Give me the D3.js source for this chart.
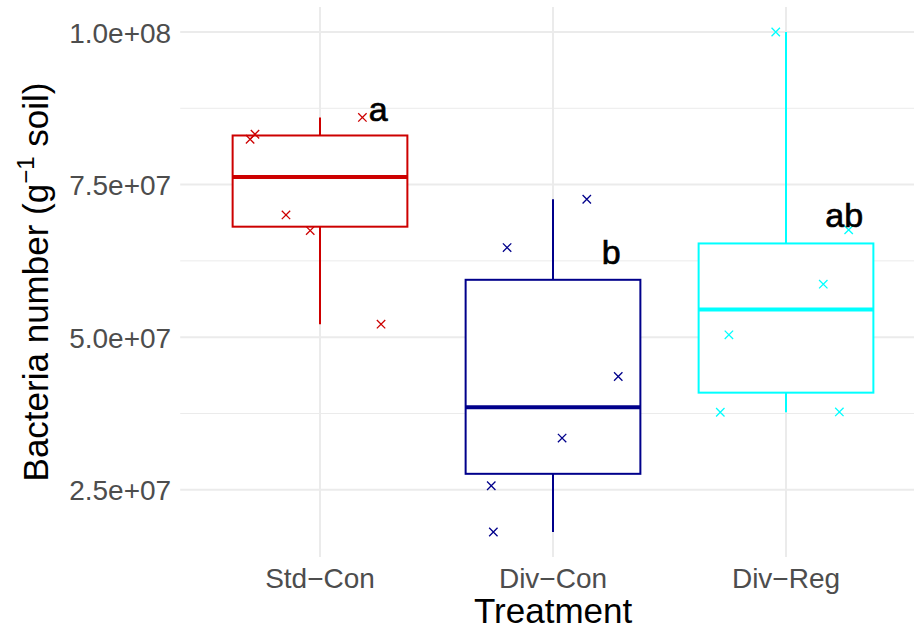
<!DOCTYPE html>
<html><head><meta charset="utf-8">
<script src="https://cdn.jsdelivr.net/npm/d3@7"></script>
<style>
body{margin:0;background:#fff}
svg{display:block}
text{font-family:"Liberation Sans",Arial,Helvetica,sans-serif}
</style>
</head><body>
<svg id="chart" width="914" height="630"></svg>
<script>
// Treatment groups and their colours
const treatments = ["Std\u2212Con", "Div\u2212Con", "Div\u2212Reg"];
const colours = ["#CD0000", "#00008B", "#00FFFF"];

// Bacteria counts per gram of soil, one array per treatment
const stdCon = [8.60e7, 8.325e7, 8.243e7, 7.003e7, 6.746e7, 5.213e7];
const divCon = [7.26e7, 6.468e7, 4.356e7, 3.347e7, 2.566e7, 1.808e7];
const divReg = [1.0e8, 6.758e7, 5.868e7, 5.039e7, 3.770e7, 3.775e7];

// Horizontal jitter of each observation (fraction of a category step)
const stdConJitter = [0.182, -0.279, -0.300, -0.146, -0.042, 0.262];
const divConJitter = [0.145, -0.197, 0.280, 0.039, -0.265, -0.256];
const divRegJitter = [-0.044, 0.269, 0.160, -0.245, -0.282, 0.229];

// Significance letters and the height they sit at
const letters = ["a", "b", "ab"];
const letterY = [8.55e7, 6.20e7, 6.807e7];

// Y axis ticks
const yMajor = [2.5e7, 5.0e7, 7.5e7, 1.0e8];
const yMajorLabels = ["2.5e+07", "5.0e+07", "7.5e+07", "1.0e+08"];
const yMinor = [3.75e7, 6.25e7, 8.75e7];

const groups = [stdCon, divCon, divReg];
const jitters = [stdConJitter, divConJitter, divRegJitter];

const panel = {left: 180.2, right: 925.8, top: 7, bottom: 557};

const svg = d3.select("#chart");

// Scales
const x = d3.scaleBand().domain(treatments)
  .range([panel.left, panel.right]).paddingInner(0).paddingOuter(0.1);
const allVals = groups.flat();
const [lo, hi] = d3.extent(allVals);
const pad = (hi - lo) * 0.05;
const y = d3.scaleLinear().domain([lo - pad, hi + pad]).range([panel.bottom, panel.top]);
const cx = t => x(t) + x.bandwidth() / 2;

// Grid
const grid = svg.append("g");
grid.selectAll("line.minor").data(yMinor).join("line")
  .attr("x1", panel.left).attr("x2", panel.right)
  .attr("y1", d => y(d)).attr("y2", d => y(d))
  .attr("stroke", "#EBEBEB").attr("stroke-width", 1);
grid.selectAll("line.major").data(yMajor).join("line")
  .attr("x1", panel.left).attr("x2", panel.right)
  .attr("y1", d => y(d)).attr("y2", d => y(d))
  .attr("stroke", "#EBEBEB").attr("stroke-width", 2);
grid.selectAll("line.vmajor").data(treatments).join("line")
  .attr("x1", d => cx(d)).attr("x2", d => cx(d))
  .attr("y1", panel.top).attr("y2", panel.bottom)
  .attr("stroke", "#EBEBEB").attr("stroke-width", 2);

// Y axis labels
const yAxis = d3.axisLeft(y).tickValues(yMajor)
  .tickFormat((d, i) => yMajorLabels[i]).tickSize(0).tickPadding(0);
const yg = svg.append("g").attr("transform", `translate(${panel.left - 9},0)`).call(yAxis);
yg.select(".domain").remove();
yg.selectAll("text").attr("font-size", 28).attr("fill", "#4D4D4D")
  .attr("font-family", '"Liberation Sans",Arial,sans-serif').attr("dy", "0.36em");

// X axis labels
const xAxis = d3.axisBottom(x).tickSize(0).tickPadding(0);
const xg = svg.append("g").attr("transform", `translate(0,${panel.bottom})`).call(xAxis);
xg.select(".domain").remove();
xg.selectAll("text").attr("font-size", 28).attr("fill", "#4D4D4D")
  .attr("font-family", '"Liberation Sans",Arial,sans-serif').attr("dy", null).attr("y", 31);

// Box plots
const boxW = x.bandwidth() * 0.75;
groups.forEach((vals, i) => {
  const t = treatments[i], col = colours[i];
  const s = vals.slice().sort(d3.ascending);
  const q1 = d3.quantile(s, 0.25), med = d3.quantile(s, 0.5), q3 = d3.quantile(s, 0.75);
  const iqr = q3 - q1;
  const wLo = d3.min(s.filter(v => v >= q1 - 1.5 * iqr));
  const wHi = d3.max(s.filter(v => v <= q3 + 1.5 * iqr));
  const g = svg.append("g");
  const c = cx(t);
  g.append("line").attr("x1", c).attr("x2", c).attr("y1", y(q3)).attr("y2", y(wHi))
    .attr("stroke", col).attr("stroke-width", 2);
  g.append("line").attr("x1", c).attr("x2", c).attr("y1", y(q1)).attr("y2", y(wLo))
    .attr("stroke", col).attr("stroke-width", 2);
  g.append("rect").attr("x", c - boxW / 2).attr("width", boxW)
    .attr("y", y(q3)).attr("height", y(q1) - y(q3))
    .attr("fill", "#fff").attr("stroke", col).attr("stroke-width", 2);
  g.append("line").attr("x1", c - boxW / 2).attr("x2", c + boxW / 2)
    .attr("y1", y(med)).attr("y2", y(med))
    .attr("stroke", col).attr("stroke-width", 4);
});

// Jittered observations drawn as crosses
const r = 4.2;
groups.forEach((vals, i) => {
  const t = treatments[i], col = colours[i];
  svg.append("g").selectAll("path").data(vals).join("path")
    .attr("transform", (d, k) => `translate(${cx(t) + jitters[i][k] * x.step()},${y(d)})`)
    .attr("d", `M${-r},${-r}L${r},${r}M${-r},${r}L${r},${-r}`)
    .attr("stroke", col).attr("stroke-width", 1.3).attr("fill", "none");
});

// Significance letters
svg.append("g").selectAll("text").data(letters).join("text")
  .attr("x", (d, i) => cx(treatments[i]) + 0.25 * x.step())
  .attr("y", (d, i) => y(letterY[i]))
  .attr("text-anchor", "middle").attr("font-size", 34).attr("fill", "#000")
  .attr("stroke", "#000").attr("stroke-width", 0.7)
  .text(d => d);

// Axis titles
svg.append("text").attr("x", (panel.left + 914) / 2 + 6).attr("y", 623)
  .attr("text-anchor", "middle").attr("font-size", 35).attr("fill", "#000")
  .text("Treatment");

const yt = svg.append("text")
  .attr("transform", `translate(48,${(panel.top + panel.bottom) / 2}) rotate(-90)`)
  .attr("text-anchor", "middle").attr("font-size", 35).attr("fill", "#000");
yt.append("tspan").text("Bacteria number (g");
yt.append("tspan").attr("font-size", 24).attr("dy", -14).text("\u22121");
yt.append("tspan").attr("dy", 14).text(" soil)");
</script>
</body></html>
